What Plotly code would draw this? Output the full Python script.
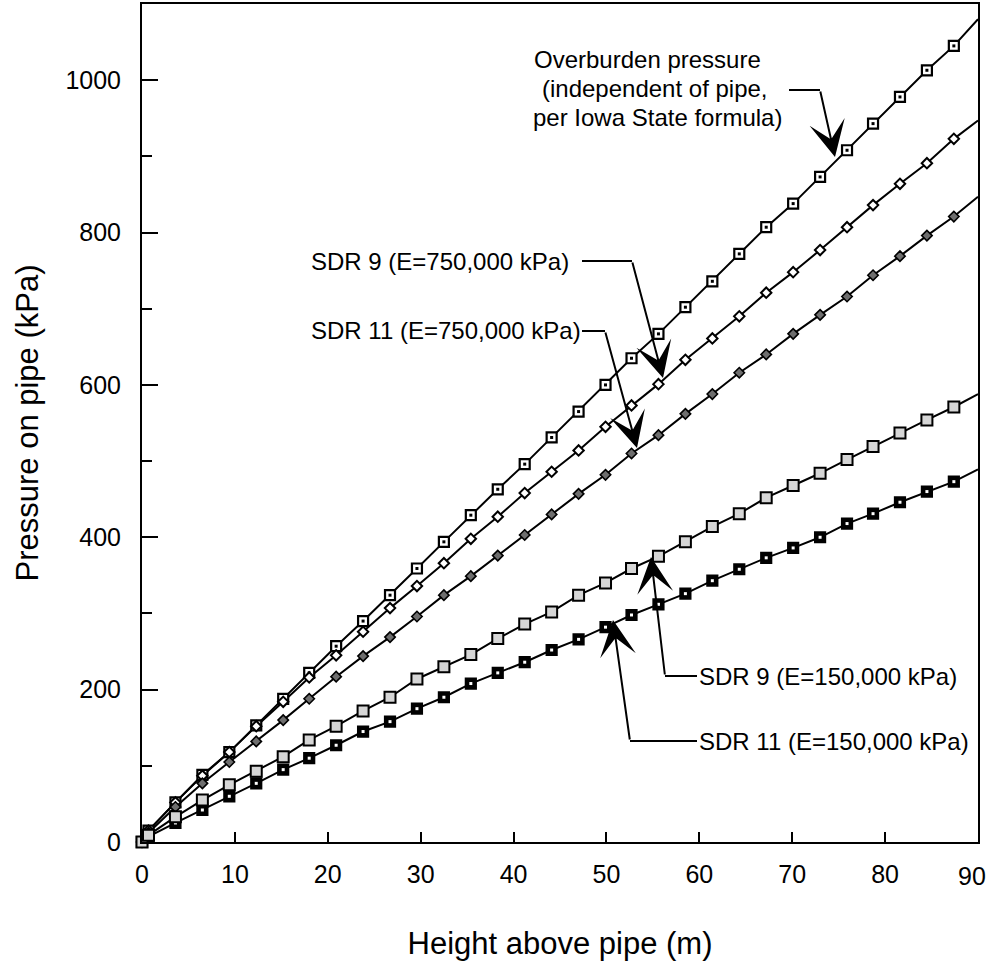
import plotly.graph_objects as go

# ---------------- data ----------------
height_m = [0, 0.7, 3.6, 6.5, 9.4, 12.3, 15.2, 18.0, 20.9, 23.8, 26.7, 29.6, 32.5,
            35.4, 38.3, 41.2, 44.1, 47.0, 49.9, 52.7, 55.6, 58.5, 61.4, 64.3,
            67.2, 70.1, 73.0, 75.9, 78.7, 81.6, 84.5, 87.4]
edge_height_m = 90  # where the curves leave the plot frame

overburden = [0, 15, 52, 88, 118, 153, 188, 222, 257, 290, 324, 359, 394, 429, 463,
              496, 531, 565, 600, 635, 667, 702, 736, 772, 807, 838, 873, 908, 943,
              978, 1013, 1045]
overburden_edge = 1080

sdr9_e750 = [0, 15, 52, 87, 118, 152, 184, 216, 245, 276, 307, 336, 366, 398, 427,
             458, 486, 514, 545, 573, 601, 633, 661, 690, 721, 748, 777, 807, 836,
             864, 891, 923]
sdr9_e750_edge = 947

sdr11_e750 = [0, 12, 46, 77, 105, 132, 160, 188, 217, 244, 269, 296, 324, 349, 376,
              403, 430, 457, 482, 510, 534, 562, 588, 616, 640, 667, 692, 716, 744,
              769, 796, 821]
sdr11_e750_edge = 847

sdr9_e150 = [0, 9, 33, 55, 75, 93, 112, 134, 152, 172, 190, 214, 230, 246, 267, 286,
             302, 324, 340, 359, 375, 394, 414, 431, 452, 468, 484, 502, 519, 537,
             554, 571]
sdr9_e150_edge = 588

sdr11_e150 = [0, 7, 25, 42, 60, 77, 95, 110, 127, 145, 158, 175, 190, 208, 222, 236,
              252, 266, 282, 298, 312, 326, 343, 358, 373, 386, 400, 418, 431, 446,
              460, 473]
sdr11_e150_edge = 489

x_ticks = [0, 10, 20, 30, 40, 50, 60, 70, 80, 90]
y_ticks = [0, 200, 400, 600, 800, 1000]

# ---------------- layout geometry ----------------
W, H = 990, 967
PL, PR, PT, PB = 142, 978, 4, 842
XMAX, YMAX = 90, 1100
FONT = "Arial, Liberation Sans, Helvetica, sans-serif"


def dx(px):
    return (px - PL) / (PR - PL) * XMAX


def dy(py):
    return (PB - py) / (PB - PT) * YMAX


def paper_x(px):
    return (px - PL) / (PR - PL)


def paper_y(py):
    return (PB - py) / (PB - PT)


fig = go.Figure()

series = [
    # (values, edge, symbol, size, fill, line width, dot colour, dot size)
    (overburden, overburden_edge, "square", 10, "white", 2.2, "black", 3),
    (sdr9_e750, sdr9_e750_edge, "diamond", 8, "white", 2, None, 0),
    (sdr11_e750, sdr11_e750_edge, "diamond", 8, "#6e6e6e", 1.6, None, 0),
    (sdr11_e150, sdr11_e150_edge, "square", 10, "black", 2.2, "white", 3),
    (sdr9_e150, sdr9_e150_edge, "square", 11, "#d6d6d6", 2, None, 0),
]

# lines first
for vals, edge, *_ in series:
    fig.add_trace(go.Scatter(
        x=height_m + [edge_height_m], y=vals + [edge], mode="lines",
        line=dict(color="black", width=2), hoverinfo="skip", showlegend=False))

for vals, edge, sym, size, fill, lw, dot, dsize in series:
    fig.add_trace(go.Scatter(
        x=height_m, y=vals, mode="markers", cliponaxis=False,
        marker=dict(symbol=sym, size=size, color=fill,
                    line=dict(color="black", width=lw)),
        showlegend=False))
    if dot:
        fig.add_trace(go.Scatter(
            x=height_m, y=vals, mode="markers", cliponaxis=False,
            marker=dict(symbol="square", size=dsize, color=dot, line=dict(width=0)),
            showlegend=False, hoverinfo="skip"))

# ---------------- annotations ----------------
ann = []
shapes = []
tfont = dict(family=FONT, size=24, color="black")

# Overburden label (three centred lines)
for txt, cx, cy in [("Overburden pressure", 647, 59),
                    ("(independent of pipe,", 655, 88),
                    ("per Iowa State formula)", 657, 117)]:
    ann.append(dict(x=dx(cx), y=dy(cy), xref="x", yref="y", text=txt,
                    showarrow=False, xanchor="center", yanchor="middle", font=tfont))

for txt, lx, cy in [("SDR 9 (E=750,000 kPa)", 309, 261),
                    ("SDR 11 (E=750,000 kPa)", 309, 330),
                    ("SDR 9 (E=150,000 kPa)", 697, 676),
                    ("SDR 11 (E=150,000 kPa)", 697, 741)]:
    ann.append(dict(x=dx(lx), y=dy(cy), xref="x", yref="y", text=txt,
                    showarrow=False, xanchor="left", yanchor="middle", font=tfont))

# last x tick label is pulled inward so it stays inside the page (as in the reference)
ann.append(dict(x=paper_x(988), y=paper_y(876), xref="paper", yref="paper",
                text=str(x_ticks[-1]), showarrow=False, xanchor="right",
                yanchor="middle", font=dict(family=FONT, size=25, color="black")))

# leader lines: (horizontal start px, horizontal end / elbow px, y px, tip px)
leaders = [
    (789, 820, 90, (835, 157)),
    (582, 632, 261, (663, 378)),
    (582, 605, 331, (637, 448)),
    (697, 665, 676, (651, 557)),
    (697, 630, 741, (613, 620)),
]
for hx0, hx1, hy, (tx, ty) in leaders:
    shapes.append(dict(type="line", xref="x", yref="y", x0=dx(hx0), x1=dx(hx1),
                       y0=dy(hy), y1=dy(hy), line=dict(color="black", width=2)))
    ann.append(dict(x=dx(tx), y=dy(ty), xref="x", yref="y", text="",
                    showarrow=True, axref="pixel", ayref="pixel",
                    ax=hx1 - tx, ay=hy - ty, arrowhead=3, arrowsize=3.0,
                    arrowwidth=2, arrowcolor="black", standoff=0))

fig.update_layout(
    width=W, height=H,
    margin=dict(l=PL, r=W - PR, t=PT, b=H - PB, autoexpand=False),
    paper_bgcolor="white", plot_bgcolor="white",
    font=dict(family=FONT, color="black"),
    annotations=ann, shapes=shapes, showlegend=False,
)

fig.update_xaxes(
    range=[0, XMAX], tickvals=x_ticks,
    ticktext=[str(v) for v in x_ticks[:-1]] + [""],
    ticks="inside", ticklen=10, tickwidth=2, tickcolor="black",
    showline=True, linewidth=2, linecolor="black", mirror=True,
    showgrid=False, zeroline=False, tickfont=dict(size=25, family=FONT),
    ticklabelstandoff=9,
    title=dict(text="Height above pipe (m)", font=dict(size=31, family=FONT),
               standoff=45),
    automargin=False,
)
fig.update_yaxes(
    range=[0, YMAX], tickvals=y_ticks, ticktext=[str(v) for v in y_ticks],
    ticks="inside", ticklen=16, tickwidth=2, tickcolor="black",
    minor=dict(dtick=100, tick0=0, ticks="inside", ticklen=10, tickwidth=2,
               tickcolor="black", showgrid=False),
    showline=True, linewidth=2, linecolor="black", mirror=True,
    showgrid=False, zeroline=False, tickfont=dict(size=25, family=FONT),
    ticklabelstandoff=14, ticklabeloverflow="allow",
    title=dict(text="Pressure on pipe (kPa)", font=dict(size=31, family=FONT),
               standoff=18),
    automargin=False,
)

fig.write_html("out.html")
